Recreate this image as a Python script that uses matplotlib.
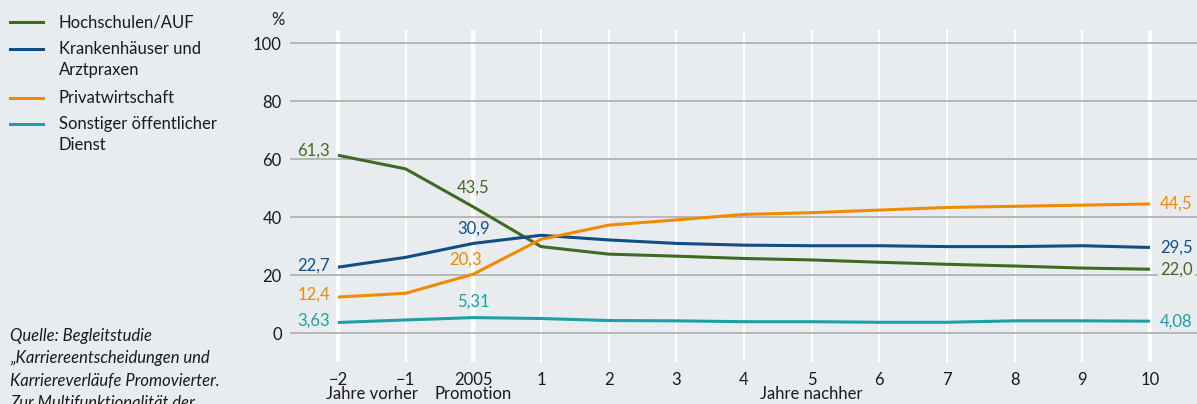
import matplotlib
matplotlib.use("Agg")
import matplotlib.pyplot as plt

plt.rcParams['font.family'] = ['Lato', 'DejaVu Sans']

# data (x: years relative to Promotion 2005)
years = [-2, -1, 0, 1, 2, 3, 4, 5, 6, 7, 8, 9, 10]
tick_labels = ['\u22122', '\u22121', '2005', '1', '2', '3', '4', '5', '6', '7', '8', '9', '10']

hochschulen = [61.3, 56.6, 43.5, 29.8, 27.2, 26.5, 25.7, 25.2, 24.4, 23.7, 23.1, 22.4, 22.0]
krankenhaus = [22.7, 26.1, 30.9, 33.7, 32.1, 30.9, 30.3, 30.1, 30.1, 29.8, 29.8, 30.1, 29.5]
privat = [12.4, 13.7, 20.3, 32.3, 37.2, 39.0, 40.9, 41.5, 42.4, 43.3, 43.7, 44.1, 44.5]
sonstiger = [3.63, 4.5, 5.31, 5.0, 4.3, 4.2, 3.9, 3.9, 3.7, 3.7, 4.2, 4.2, 4.08]

series_names = ['Hochschulen/AUF', 'Krankenhäuser und\nArztpraxen', 'Privatwirtschaft',
                'Sonstiger öffentlicher\nDienst']
series = [hochschulen, krankenhaus, privat, sonstiger]
colors = ['#3e6b21', '#0f4f88', '#f18a00', '#1aa0a5']

bg = '#e9ecef'
txt = '#1a1a1a'
fs = 12
W, H = 1197, 404

def fx(p):
    return p / W

def fy(p):
    return 1 - p / H

fig = plt.figure(figsize=(W / 100, H / 100), dpi=100, facecolor=bg)
ax = fig.add_axes([fx(290), fy(362), fx(1197 - 290), (362 - 30) / H])
ax.set_facecolor(bg)
ax.set_xlim(-2.709, 10.695)
ax.set_ylim(-10.0, 104.5)
for s in ax.spines.values():
    s.set_visible(False)

# white vertical lines
for x in years:
    lw = 3.2 if x in (-2, 0, 10) else 1.5
    ax.axvline(x, color='white', lw=lw, zorder=1)
# gray horizontal lines
for y in range(0, 101, 20):
    ax.axhline(y, color='#b3b3b3', lw=1.3, zorder=2)

for vals, c in zip(series, colors):
    ax.plot(years, vals, color=c, lw=2.2, zorder=3, solid_capstyle='butt')

ax.set_yticks(range(0, 101, 20))
ax.set_yticklabels([str(v) for v in range(0, 101, 20)], fontsize=fs, color=txt)
ax.set_xticks(years)
ax.set_xticklabels(tick_labels, fontsize=fs, color=txt)
ax.tick_params(axis='both', length=0)
ax.tick_params(axis='y', pad=6)
ax.tick_params(axis='x', pad=7)

fig.text(fx(278), fy(20), '%', fontsize=fs, ha='center', va='center', color=txt)

# sub labels under x axis
for xpos, lab in [(-1.5, 'Jahre vorher'), (0, 'Promotion'), (5, 'Jahre nachher')]:
    ax.text(xpos, fy(394), lab, transform=ax.get_xaxis_transform(), ha='center',
            va='center', fontsize=fs, color=txt) if False else None
    fig.text(ax.transData.transform((xpos, 0))[0] / W, fy(394), lab, ha='center', va='center',
             fontsize=fs, color=txt)

def fmt(v, nd=1):
    return f'{v:.{nd}f}'.replace('.', ',')

# value labels at the start
ax.text(-2.12, hochschulen[0] + 1.7, fmt(hochschulen[0]), color=colors[0], ha='right', va='center', fontsize=fs)
ax.text(-2.12, krankenhaus[0] + 0.7, fmt(krankenhaus[0]), color=colors[1], ha='right', va='center', fontsize=fs)
ax.text(-2.12, privat[0] + 0.7, fmt(privat[0]), color=colors[2], ha='right', va='center', fontsize=fs)
ax.text(-2.12, sonstiger[0] + 0.7, fmt(sonstiger[0], 2), color=colors[3], ha='right', va='center', fontsize=fs)

# value labels at Promotion
ax.text(0, hochschulen[2] + 6.5, fmt(hochschulen[2]), color=colors[0], ha='center', va='center', fontsize=fs)
ax.text(0, krankenhaus[2] + 5.0, fmt(krankenhaus[2]), color=colors[1], ha='center', va='center', fontsize=fs)
ax.text(-0.12, privat[2] + 5.0, fmt(privat[2]), color=colors[2], ha='center', va='center', fontsize=fs)
ax.text(0, sonstiger[2] + 5.5, fmt(sonstiger[2], 2), color=colors[3], ha='center', va='center', fontsize=fs)

# value labels at the end
ax.text(10.15, privat[-1], fmt(privat[-1]), color=colors[2], ha='left', va='center', fontsize=fs)
ax.text(10.15, krankenhaus[-1], fmt(krankenhaus[-1]), color=colors[1], ha='left', va='center', fontsize=fs)
ax.text(10.15, hochschulen[-1], fmt(hochschulen[-1]), color=colors[0], ha='left', va='center', fontsize=fs,
        bbox=dict(facecolor=bg, edgecolor='none', pad=1.5), zorder=4)
ax.text(10.15, sonstiger[-1], fmt(sonstiger[-1], 2), color=colors[3], ha='left', va='center', fontsize=fs)

# legend on the left
leg_y = [22, 49, 98, 124]
for name, c, y in zip(series_names, colors, leg_y):
    fig.add_artist(plt.Line2D([fx(10), fx(43)], [fy(y), fy(y)], color=c, lw=2.2))
    for i, ln in enumerate(name.split('\n')):
        fig.text(fx(59), fy(y + 21 * i), ln, fontsize=fs, ha='left', va='center', color=txt)

src = ['Quelle: Begleitstudie', '\u201eKarriereentscheidungen und',
       'Karriereverläufe Promovierter.', 'Zur Multifunktionalität der']
for i, ln in enumerate(src):
    fig.text(fx(10), fy(336 + 22.5 * i), ln, fontsize=fs, style='italic', ha='left', va='center',
             color=txt)

fig.savefig('out.png', dpi=100, facecolor=bg)
